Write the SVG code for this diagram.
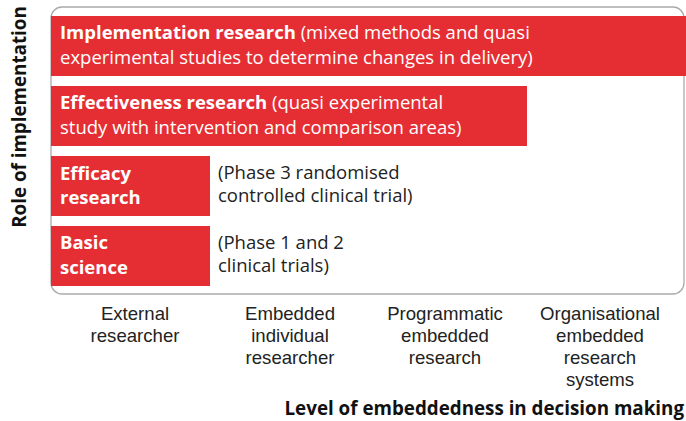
<svg xmlns="http://www.w3.org/2000/svg" width="686" height="421" viewBox="0 0 686 421">
  <style>
    .frame { fill: #ffffff; stroke: #aaaaaa; stroke-width: 1.3; }
    .bar { fill: #e52e33; }
    .t { font-family: "Open Sans", "Noto Sans", sans-serif; font-size: 18.5px; }
    .w { fill: #ffffff; }
    .d { fill: #222222; }
    .b { font-weight: bold; }
    .axis { font-family: "Open Sans", "Noto Sans", sans-serif; font-size: 18.8px; font-weight: bold; fill: #111111; }
    .lbl { font-family: "Liberation Sans", Arial, sans-serif; font-size: 18.6px; fill: #222222; text-anchor: middle; }
  </style>

  <!-- plot frame -->
  <rect class="frame" x="51" y="7" width="633" height="287" rx="11" ry="11"/>

  <g id="implementation-research">
    <rect class="bar" x="51" y="16" width="635" height="60"/>
    <text class="t w"><tspan x="60" y="39"><tspan class="b">Implementation research</tspan> (mixed methods and quasi</tspan><tspan x="60" y="64">experimental studies to determine changes in delivery)</tspan></text>
  </g>

  <g id="effectiveness-research">
    <rect class="bar" x="51" y="86" width="476" height="60"/>
    <text class="t w"><tspan x="60" y="109"><tspan class="b">Effectiveness research</tspan> (quasi experimental</tspan><tspan x="60" y="134">study with intervention and comparison areas)</tspan></text>
  </g>

  <g id="efficacy-research">
    <rect class="bar" x="51" y="156" width="159" height="60"/>
    <text class="t w b"><tspan x="60" y="180">Efficacy</tspan><tspan x="60" y="204">research</tspan></text>
    <text class="t d"><tspan x="218" y="179">(Phase 3 randomised</tspan><tspan x="218" y="202">controlled clinical trial)</tspan></text>
  </g>

  <g id="basic-science">
    <rect class="bar" x="51" y="226" width="159" height="60"/>
    <text class="t w b"><tspan x="60" y="249">Basic</tspan><tspan x="60" y="274">science</tspan></text>
    <text class="t d"><tspan x="218" y="249">(Phase 1 and 2</tspan><tspan x="218" y="272">clinical trials)</tspan></text>
  </g>

  <!-- x-axis categories -->
  <g id="x-categories">
    <text class="lbl"><tspan x="135" y="320">External</tspan><tspan x="135" y="342">researcher</tspan></text>
    <text class="lbl"><tspan x="290" y="320">Embedded</tspan><tspan x="290" y="342">individual</tspan><tspan x="290" y="364">researcher</tspan></text>
    <text class="lbl"><tspan x="445" y="320">Programmatic</tspan><tspan x="445" y="342">embedded</tspan><tspan x="445" y="364">research</tspan></text>
    <text class="lbl"><tspan x="600" y="320">Organisational</tspan><tspan x="600" y="342">embedded</tspan><tspan x="600" y="364">research</tspan><tspan x="600" y="386">systems</tspan></text>
  </g>

  <!-- axis titles -->
  <text class="axis" x="684" y="415" text-anchor="end">Level of embeddedness in decision making</text>
  <text class="axis" transform="translate(26,117) rotate(-90)" text-anchor="middle">Role of implementation</text>
</svg>
